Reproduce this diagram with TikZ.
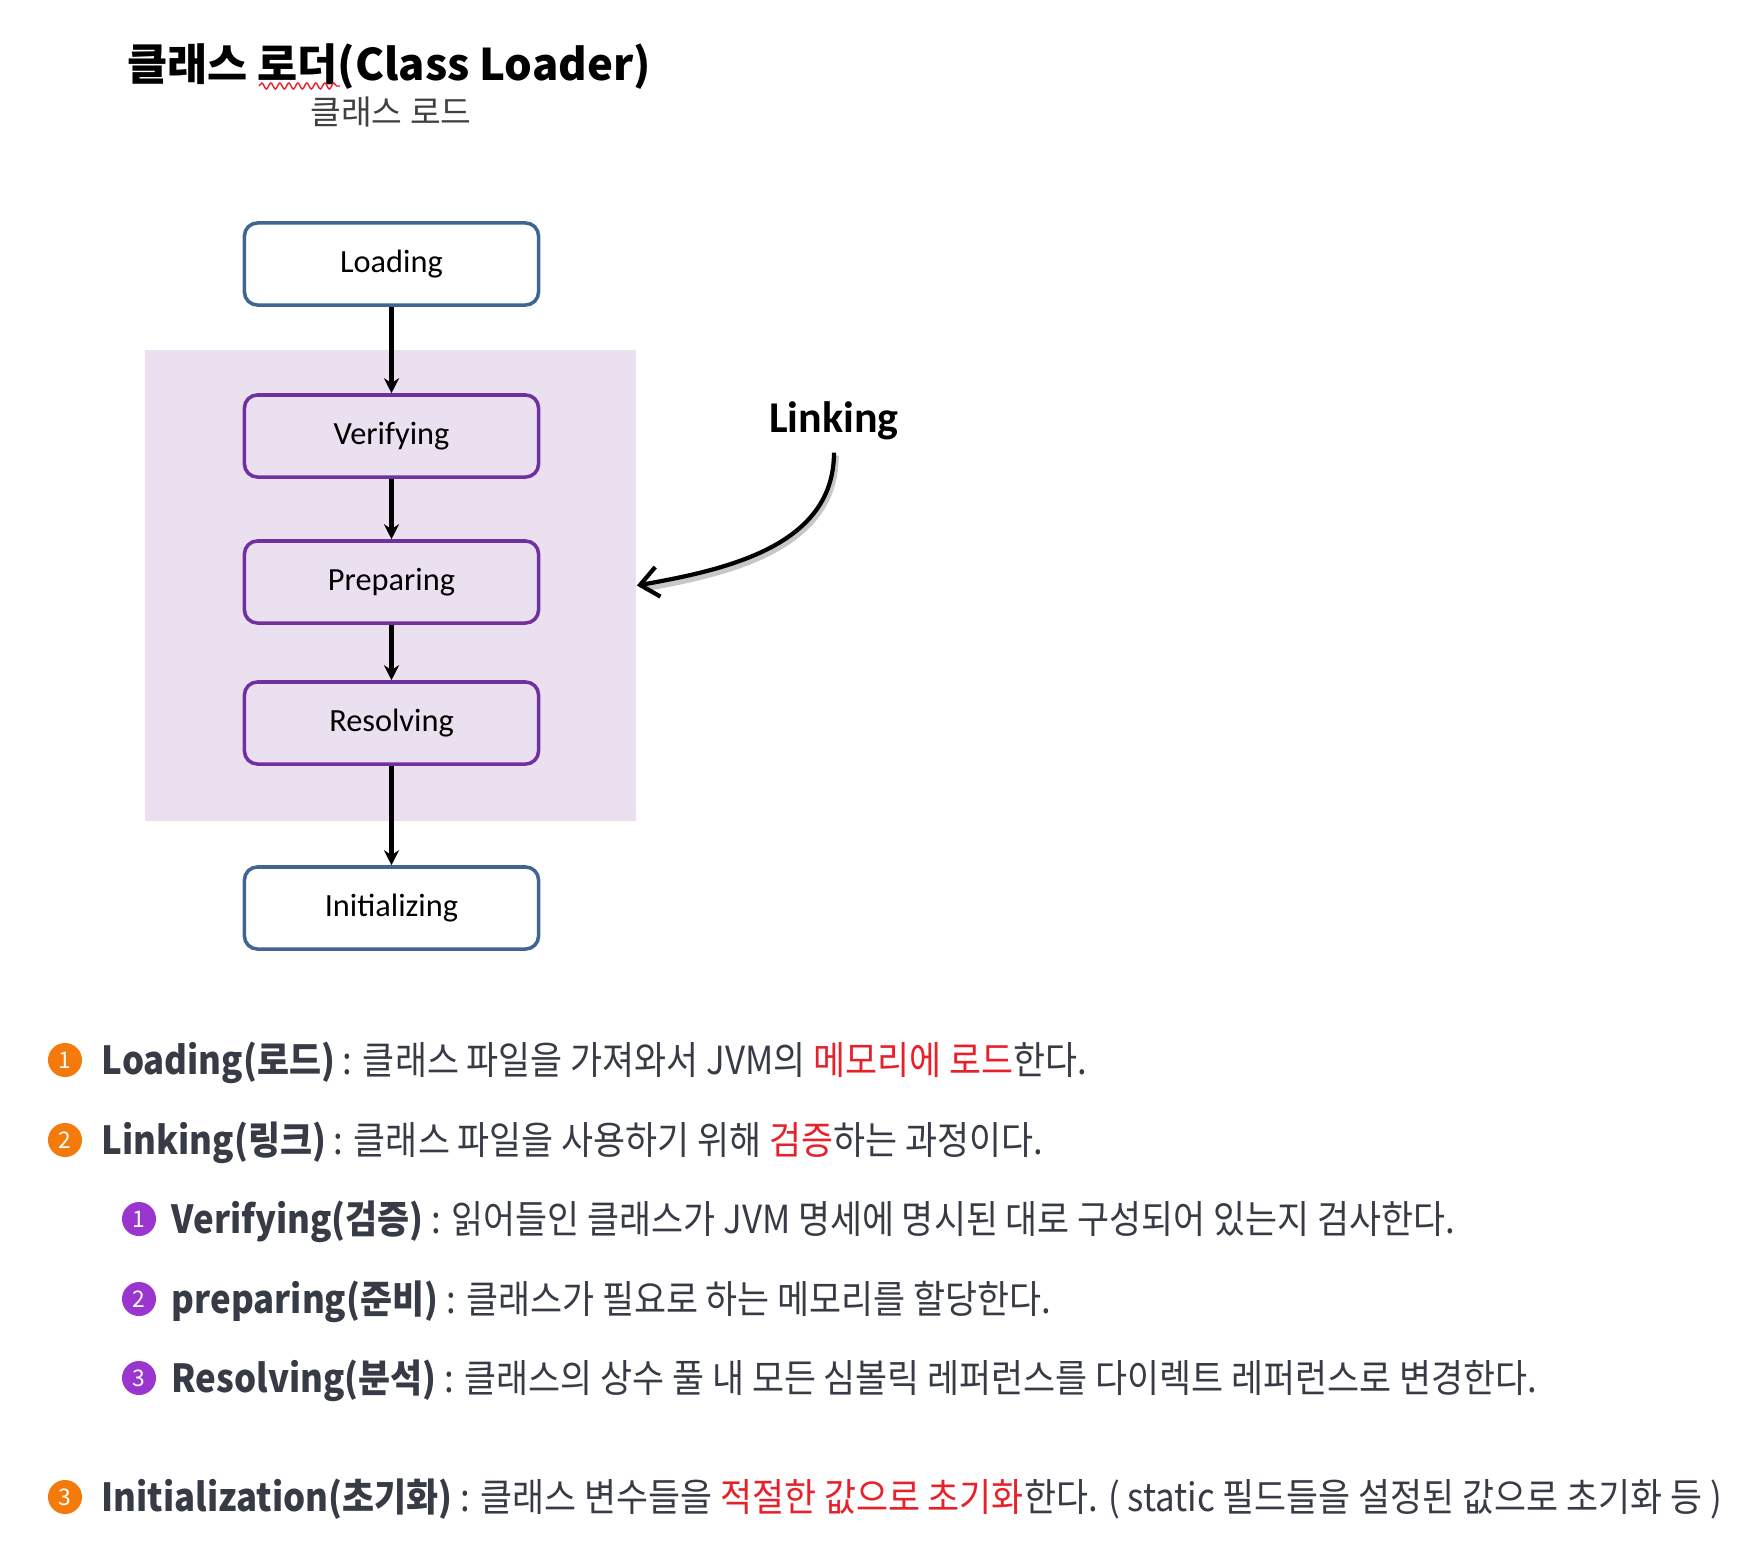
\documentclass[tikz,border=0pt]{standalone}
\usepackage{fontspec}
\setmainfont{Noto Sans CJK KR}
\newfontfamily\bodyfont[FakeStretch=0.9]{Noto Sans CJK KR}
\newfontfamily\boxfont{Carlito}
\usetikzlibrary{arrows.meta,decorations.pathmorphing}

\definecolor{boxblue}{HTML}{3F6592}
\definecolor{boxpurple}{HTML}{7030A0}
\definecolor{linkfill}{HTML}{EBE0F0}
\definecolor{bodytext}{HTML}{373B45}
\definecolor{hlred}{HTML}{E8202A}
\definecolor{dotorange}{HTML}{F57A0C}
\definecolor{dotpurple}{HTML}{9A35CF}

\newcommand{\hl}[1]{\textcolor{hlred}{#1}}

\tikzset{
  phase/.style={draw,rounded corners=1.3mm,line width=1pt,minimum width=2.94cm,
    minimum height=0.82cm,font=\boxfont\fontsize{9.2}{11}\selectfont},
  loadphase/.style={phase,draw=boxblue,fill=white},
  linkphase/.style={phase,draw=boxpurple,fill=linkfill},
  flow/.style={-{Stealth[length=1.5mm,width=1.5mm]},line width=1.2pt},
  linkarrow/.style={-{Straight Barb[length=1.8mm,width=3mm]},line width=1.2pt},
  bullet/.style={circle,inner sep=0pt,minimum size=0.34cm,text=white,
    font=\fontsize{6.5}{7}\selectfont},
  mainbullet/.style={bullet,fill=dotorange},
  subbullet/.style={bullet,fill=dotpurple},
  desc/.style={anchor=base west,inner sep=0pt,text=bodytext,
    font=\bodyfont\fontsize{11}{13}\selectfont},
}

\begin{document}
\begin{tikzpicture}[x=0.01cm,y=-0.01cm]
  \useasboundingbox (0,0) rectangle (1744,1550);
  % title
  \node (title) at (389,67) {\fontsize{12.4}{15}\selectfont\bfseries 클래스 로더(Class Loader)};
  \node[text=black!75] (subtitle) at (391,112) {\fontsize{9.5}{11}\selectfont 클래스 로드};
  \draw[hlred,line width=0.4pt,decorate,decoration={snake,amplitude=0.3mm,segment length=0.9mm}]
    (259,86) -- (340,86);

  % linking area and phases
  \node[fill=linkfill,inner sep=0pt,minimum width=4.91cm,minimum height=4.71cm] (linkbox) at (390.5,585.5) {};
  \node[loadphase] (load) at (391.5,264) {Loading};
  \node[linkphase] (verify) at (391.5,436) {Verifying};
  \node[linkphase] (prepare) at (391.5,582) {Preparing};
  \node[linkphase] (resolve) at (391.5,723) {Resolving};
  \node[loadphase] (init) at (391.5,908) {Initializing};
  \foreach \from/\to in {load/verify,verify/prepare,prepare/resolve,resolve/init}
    \draw[flow] (\from) -- (\to);

  \node[font=\boxfont\bfseries\fontsize{12.5}{15}\selectfont] (linking) at (834,421) {Linking};
  \draw[line width=1.6pt,black,opacity=0.22] ([shift={(2,3)}]linking.south) to[out=-90,in=10] ([shift={(8,3)}]linkbox.east);
  \draw[linkarrow] (linking.south) to[out=-90,in=10] (linkbox.east);

  % description
  \node[mainbullet] (b1) at (65,1060) {1};
  \node[desc] (t1) at (101,1074) {\textbf{Loading(로드)} : 클래스 파일을 가져와서 JVM의 \hl{메모리에 로드}한다.};
  \node[mainbullet] (b2) at (65,1140) {2};
  \node[desc] (t2) at (101,1154) {\textbf{Linking(링크)} : 클래스 파일을 사용하기 위해 \hl{검증}하는 과정이다.};
  \node[subbullet] (s1) at (139,1219) {1};
  \node[desc] (u1) at (171,1233) {\textbf{Verifying(검증)} : 읽어들인 클래스가 JVM 명세에 명시된 대로 구성되어 있는지 검사한다.};
  \node[subbullet] (s2) at (139,1299) {2};
  \node[desc] (u2) at (171,1313) {\textbf{preparing(준비)} : 클래스가 필요로 하는 메모리를 할당한다.};
  \node[subbullet] (s3) at (139,1378) {3};
  \node[desc] (u3) at (171,1392) {\textbf{Resolving(분석)} : 클래스의 상수 풀 내 모든 심볼릭 레퍼런스를 다이렉트 레퍼런스로 변경한다.};
  \node[mainbullet] (b3) at (65,1497) {3};
  \node[desc] (t3) at (101,1511) {\textbf{Initialization(초기화)} : 클래스 변수들을 \hl{적절한 값으로 초기화}한다. ( static 필드들을 설정된 값으로 초기화 등 )};
\end{tikzpicture}
\end{document}
